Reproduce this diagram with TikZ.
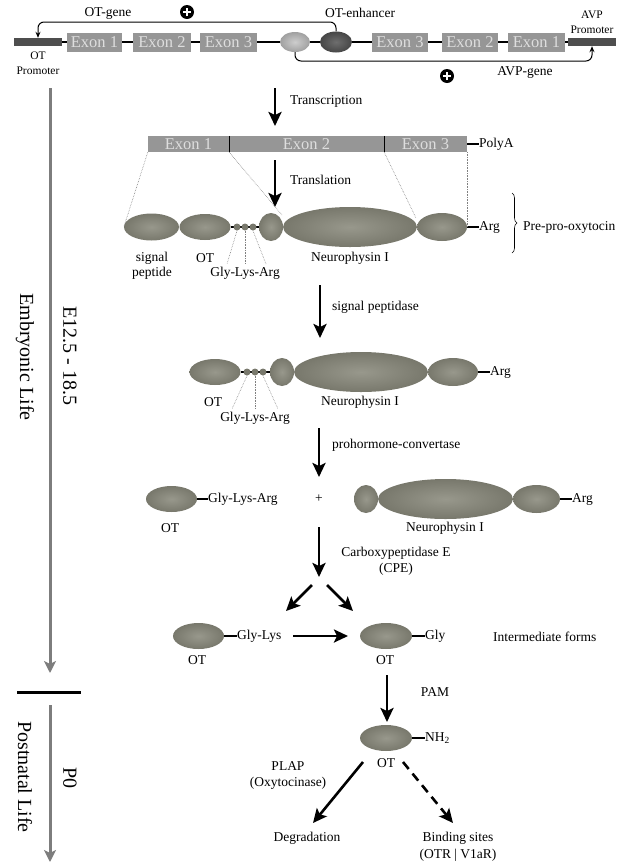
\documentclass[tikz,border=0pt]{standalone}
\usepackage{fontspec}
\setmainfont{Liberation Serif}
\usetikzlibrary{shapes.geometric,arrows.meta,decorations.pathreplacing}
\definecolor{protout}{RGB}{120,120,108}
\definecolor{protin}{RGB}{152,152,140}
\definecolor{exonfill}{RGB}{150,150,150}
\definecolor{exontext}{RGB}{222,222,222}
\definecolor{promo}{RGB}{78,78,78}
\definecolor{timeg}{RGB}{125,125,125}
\definecolor{lightin}{RGB}{205,205,205}
\definecolor{lightout}{RGB}{160,160,160}
\definecolor{darkin}{RGB}{110,110,110}
\definecolor{darkout}{RGB}{70,70,70}
\begin{document}
\begin{tikzpicture}[x=1pt,y=-1pt,
  font=\fontsize{13.5}{15}\selectfont,
  prot/.style={ellipse, inner sep=0pt, inner color=protin, outer color=protout},
  dotnode/.style={circle, inner sep=0pt, minimum size=7pt, fill=protout},
  exonbox/.style={rectangle, fill=exonfill, text=exontext, inner sep=0pt, minimum height=19pt, font=\fontsize{16.5}{18}\selectfont},
  mexon/.style={rectangle, fill=exonfill, text=exontext, inner sep=0pt, minimum height=16pt, font=\fontsize{16.5}{18}\selectfont},
  promobar/.style={rectangle, fill=promo, inner sep=0pt, minimum width=48pt, minimum height=8pt},
  lbl/.style={inner sep=0pt, align=center},
  small/.style={inner sep=0pt, align=center, font=\fontsize{11.5}{14.5}\selectfont},
  rotlbl/.style={inner sep=0pt, rotate=-90, font=\fontsize{20}{22}\selectfont},
  bigarrow/.style={line width=2.6pt, -{Stealth[length=14pt,width=13pt,inset=3pt]}},
  genearrow/.style={line width=1pt, rounded corners=6pt, -{Stealth[length=6pt,width=5pt]}},
  timearrow/.style={timeg, line width=3pt, -{Stealth[length=12pt,width=12pt,inset=3pt]}},
  guide/.style={gray, densely dotted, line width=0.6pt},
  stub/.style={line width=1.5pt},
  plusdot/.style={circle, fill=black, inner sep=0pt, minimum size=14pt}
]
\useasboundingbox (0,0) rectangle (622,863);

% ---------------- gene row ----------------
\node[promobar] (otp) at (38,42) {};
\node[promobar] (avpp) at (592,42) {};
\draw[stub] (otp.east) -- (avpp.west);
\node[exonbox, minimum width=55pt] (ge1) at (94.5,42.5) {Exon 1};
\node[exonbox, minimum width=58pt] (ge2) at (162,42.5) {Exon 2};
\node[exonbox, minimum width=57pt] (ge3) at (228.5,42.5) {Exon 3};
\node[ellipse, inner sep=0pt, minimum width=30pt, minimum height=20pt, inner color=lightin, outer color=lightout] (lenh) at (295,42) {};
\node[ellipse, inner sep=0pt, minimum width=32pt, minimum height=21pt, inner color=darkin, outer color=darkout] (enh) at (336,42) {};
\node[exonbox, minimum width=56pt] (ae3) at (400,42.5) {Exon 3};
\node[exonbox, minimum width=56pt] (ae2) at (470,42.5) {Exon 2};
\node[exonbox, minimum width=57pt] (ae1) at (536.5,42.5) {Exon 1};

\coordinate (otgtop) at (150,22);
\coordinate (avgbot) at (450,61);
\draw[genearrow] (enh.north) |- (otgtop) -| (otp.north);
\draw[genearrow] (lenh.south) |- (avgbot) -| (avpp.south);

\node[lbl] (otgene) at (108,13) {OT-gene};
\node[lbl] (otenh) at (360,13) {OT-enhancer};
\node[lbl] (avpgene) at (525,72) {AVP-gene};
\node[small] (otpl) at (38,63) {OT\\Promoter};
\node[small] (avppl) at (592,22.5) {AVP\\Promoter};
\node[plusdot] (plus1) at (187,12) {};
\draw[white, line width=2pt] ([xshift=-4.2pt]plus1.center) -- ([xshift=4.2pt]plus1.center);
\draw[white, line width=2pt] ([yshift=-4.2pt]plus1.center) -- ([yshift=4.2pt]plus1.center);
\node[plusdot] (plus2) at (447,76) {};
\draw[white, line width=2pt] ([xshift=-4.2pt]plus2.center) -- ([xshift=4.2pt]plus2.center);
\draw[white, line width=2pt] ([yshift=-4.2pt]plus2.center) -- ([yshift=4.2pt]plus2.center);

% ---------------- transcription ----------------
\coordinate (tra) at (275,88);
\coordinate (trb) at (275,126);
\draw[bigarrow] (tra) -- (trb);
\node[lbl, anchor=west] (trl) at (290,101) {Transcription};

% ---------------- mRNA ----------------
\node[mexon, minimum width=81pt] (m1) at (188.5,144) {Exon 1};
\node[mexon, minimum width=155pt] (m2) at (306.5,144) {Exon 2};
\node[mexon, minimum width=83pt] (m3) at (425.5,144) {Exon 3};
\draw[line width=1.2pt] (m1.north east) -- (m1.south east);
\draw[line width=1.2pt] (m2.north east) -- (m2.south east);
\node[lbl, anchor=west] (polya) at (479,144) {PolyA};
\draw[stub] (m3.east) -- (polya.west);

% ---------------- translation ----------------
\coordinate (tla) at (275,160);
\coordinate (tlb) at (275,207);
\draw[bigarrow] (tla) -- (tlb);
\node[lbl, anchor=west] (tll) at (290,180) {Translation};

% ---------------- row 1 ----------------
\node[prot, minimum width=55pt, minimum height=27pt] (sig) at (151.5,227) {};
\node[prot, minimum width=51pt, minimum height=26pt] (ot1) at (205,227) {};
\node[prot, minimum width=24pt, minimum height=28pt] (sr1) at (271,227) {};
\draw[stub] (ot1.east) -- (sr1.west);
\node[dotnode] (d1a) at (237,227) {};
\node[dotnode] (d1b) at (245,227) {};
\node[dotnode] (d1c) at (253,227) {};
\node[prot, minimum width=134pt, minimum height=40pt] (np1) at (350,227) {};
\node[prot, minimum width=50pt, minimum height=28pt] (rt1) at (442,227) {};
\node[lbl, anchor=west] (arg1) at (479,227) {Arg};
\draw[stub] (rt1.east) -- (arg1.west);
\coordinate (br1) at (512,193);
\coordinate (br2) at (512,253);
\draw[decorate, decoration={brace, amplitude=5pt}, line width=0.6pt] (br1) -- (br2);
\node[lbl, anchor=west] (ppo) at (523,227) {Pre-pro-oxytocin};

\coordinate (j1) at (282,215);
\coordinate (j2) at (416,218);
\draw[guide] (m1.south west) -- (sig.west);
\draw[guide] (m1.south east) -- (j1);
\draw[guide] (m2.south east) -- (j2);
\draw[guide] (m3.south east) -- (rt1.east);

\node[lbl] (sigl) at (152,265.5) {signal\\peptide};
\node[lbl] (ot1l) at (205,258) {OT};
\node[lbl] (np1l) at (350,258) {Neurophysin I};
\node[lbl] (gka1) at (245,273) {Gly-Lys-Arg};
\coordinate (g1a) at (227,264);
\coordinate (g1b) at (245,264);
\coordinate (g1c) at (266,264);
\draw[guide] (d1a.south) -- (g1a);
\draw[guide] (d1b.south) -- (g1b);
\draw[guide] (d1c.south) -- (g1c);

% ---------------- signal peptidase ----------------
\coordinate (spa) at (320,285);
\coordinate (spb) at (320,338);
\draw[bigarrow] (spa) -- (spb);
\node[lbl, anchor=west] (spl) at (332,307) {signal peptidase};

% ---------------- row 2 ----------------
\node[prot, minimum width=51pt, minimum height=26pt] (ot2) at (215,372) {};
\node[prot, minimum width=24pt, minimum height=28pt] (sr2) at (282,372) {};
\draw[stub] (ot2.east) -- (sr2.west);
\node[dotnode] (d2a) at (247,372) {};
\node[dotnode] (d2b) at (255,372) {};
\node[dotnode] (d2c) at (263,372) {};
\node[prot, minimum width=134pt, minimum height=40pt] (np2) at (361,372) {};
\node[prot, minimum width=50pt, minimum height=28pt] (rt2) at (453,372) {};
\node[lbl, anchor=west] (arg2) at (490,372) {Arg};
\draw[stub] (rt2.east) -- (arg2.west);
\node[lbl] (ot2l) at (213,402) {OT};
\node[lbl] (np2l) at (360,402) {Neurophysin I};
\node[lbl] (gka2) at (255,418) {Gly-Lys-Arg};
\coordinate (g2a) at (232,409);
\coordinate (g2b) at (255,409);
\coordinate (g2c) at (278,409);
\draw[guide] (d2a.south) -- (g2a);
\draw[guide] (d2b.south) -- (g2b);
\draw[guide] (d2c.south) -- (g2c);

% ---------------- prohormone convertase ----------------
\coordinate (pca) at (319,428);
\coordinate (pcb) at (319,477);
\draw[bigarrow] (pca) -- (pcb);
\node[lbl, anchor=west] (pcl) at (332,445) {prohormone-convertase};

% ---------------- row 3 ----------------
\node[prot, minimum width=51pt, minimum height=26pt] (ot3) at (171.5,499) {};
\node[lbl, anchor=west] (gka3) at (208,499) {Gly-Lys-Arg};
\draw[stub] (ot3.east) -- (gka3.west);
\node[lbl] (plus3) at (319,499) {+};
\node[prot, minimum width=24pt, minimum height=28pt] (sr3) at (366,499) {};
\node[prot, minimum width=135pt, minimum height=40pt] (np3) at (445.5,499) {};
\node[prot, minimum width=47pt, minimum height=28pt] (rt3) at (536.5,499) {};
\node[lbl, anchor=west] (arg3) at (572,499) {Arg};
\draw[stub] (rt3.east) -- (arg3.west);
\node[lbl] (ot3l) at (170,528) {OT};
\node[lbl] (np3l) at (445,528) {Neurophysin I};

% ---------------- CPE ----------------
\coordinate (cpa) at (319,527);
\coordinate (cpb) at (319,577);
\draw[bigarrow] (cpa) -- (cpb);
\node[lbl, font=\fontsize{13.5}{16}\selectfont] (cpl) at (396,561) {Carboxypeptidase E\\(CPE)};
\coordinate (fla) at (312,585);
\coordinate (flb) at (286,611);
\coordinate (fra) at (327,585);
\coordinate (frb) at (353,611);
\draw[bigarrow] (fla) -- (flb);
\draw[bigarrow] (fra) -- (frb);

% ---------------- row 4 ----------------
\node[prot, minimum width=51pt, minimum height=26pt] (ot4a) at (198.5,636) {};
\node[lbl, anchor=west] (glk) at (237,636) {Gly-Lys};
\draw[stub] (ot4a.east) -- (glk.west);
\node[prot, minimum width=52pt, minimum height=26pt] (ot4b) at (386,636) {};
\node[lbl, anchor=west] (gly) at (425,636) {Gly};
\draw[stub] (ot4b.east) -- (gly.west);
\coordinate (ha) at (293,636);
\coordinate (hb) at (348,636);
\draw[bigarrow] (ha) -- (hb);
\node[lbl] (ot4al) at (197,660) {OT};
\node[lbl] (ot4bl) at (385,660) {OT};
\node[lbl, anchor=west] (intf) at (493,637) {Intermediate forms};

% ---------------- PAM ----------------
\coordinate (pma) at (387,675);
\coordinate (pmb) at (387,722);
\draw[bigarrow] (pma) -- (pmb);
\node[lbl] (paml) at (435,692) {PAM};

% ---------------- row 5 ----------------
\node[prot, minimum width=52pt, minimum height=26pt] (ot5) at (386,738) {};
\node[lbl, anchor=west] (nh2) at (425,738) {NH\textsubscript{2}};
\draw[stub] (ot5.east) -- (nh2.west);
\node[lbl] (ot5l) at (386,763) {OT};
\coordinate (dga) at (363,762);
\coordinate (dgb) at (313,823);
\coordinate (bsa) at (403,762);
\coordinate (bsb) at (453,823);
\draw[bigarrow] (dga) -- (dgb);
\draw[bigarrow, dash pattern=on 9pt off 6pt] (bsa) -- (bsb);
\node[lbl, font=\fontsize{13.5}{16}\selectfont] (plap) at (288,775) {PLAP\\(Oxytocinase)};
\node[lbl] (degr) at (307,838) {Degradation};
\node[lbl, font=\fontsize{13.5}{17}\selectfont] (bind) at (458,846.5) {Binding sites\\(OTR | V1aR)};

% ---------------- timeline ----------------
\coordinate (t1a) at (50,88);
\coordinate (t1b) at (50,673);
\coordinate (t2a) at (50,705);
\coordinate (t2b) at (50,862);
\coordinate (hla) at (17,692);
\coordinate (hlb) at (81,692);
\draw[timearrow] (t1a) -- (t1b);
\draw[timearrow] (t2a) -- (t2b);
\draw[line width=3pt] (hla) -- (hlb);
\node[rotlbl] (emb) at (25,357) {Embryonic Life};
\node[rotlbl] (eday) at (70,356) {E12.5 - 18.5};
\node[rotlbl] (post) at (25,777) {Postnatal Life};
\node[rotlbl] (pz) at (70,778) {P0};
\end{tikzpicture}
\end{document}
